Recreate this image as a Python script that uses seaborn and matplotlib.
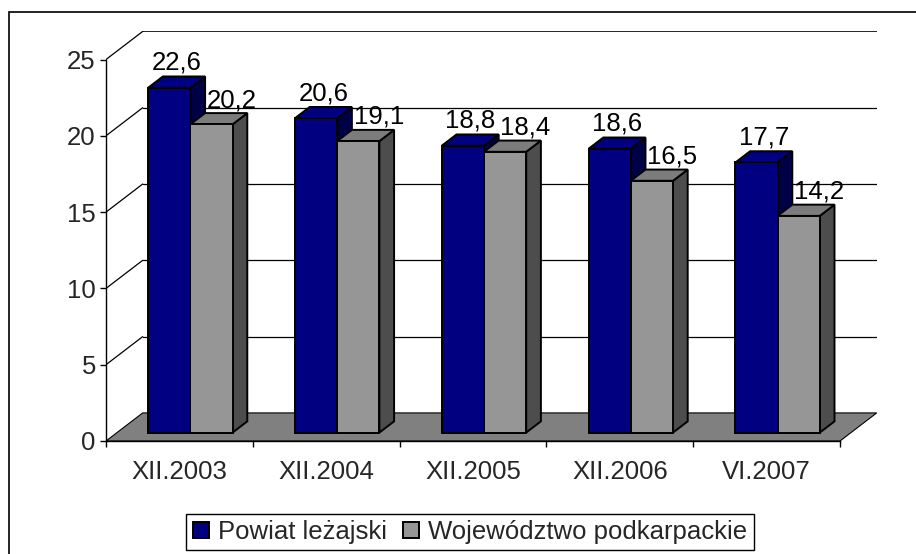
import matplotlib
matplotlib.use("Agg")
import matplotlib.pyplot as plt
from matplotlib.patches import Polygon, Patch, Rectangle
import pandas as pd
import seaborn as sns

# --- data -----------------------------------------------------------------
okresy = ["XII.2003", "XII.2004", "XII.2005", "XII.2006", "VI.2007"]
serie = ["Powiat leżajski", "Województwo podkarpackie"]
powiat = [22.6, 20.6, 18.8, 18.6, 17.7]
wojewodztwo = [20.2, 19.1, 18.4, 16.5, 14.2]
y_ticks = [0, 5, 10, 15, 20, 25]

# --- style ----------------------------------------------------------------
FRONT = {serie[0]: "#000080", serie[1]: "#969696"}
TOP = {serie[0]: "#000080", serie[1]: "#7c7c7c"}
SIDE = {serie[0]: "#000046", serie[1]: "#4d4d4d"}
LABEL_OFFSET = {serie[0]: (0, 5), serie[1]: (9.4, 4.3)}   # points
FLOOR = "#808080"
FS = 18.5

W, H = 916, 554
DX, DY = 0.25, 1.84          # full depth of the 3-D box (x in categories, y in values)
D0, BD = 0.30, 0.40          # bar front position / bar depth as fraction of full depth
YMAX = 25

sns.set_theme(style="white")
plt.rcParams["font.family"] = ["Liberation Sans", "DejaVu Sans"]

df = pd.DataFrame({
    "okres": okresy * 2,
    "seria": [serie[0]] * len(okresy) + [serie[1]] * len(okresy),
    "wartosc": powiat + wojewodztwo,
})

fig = plt.figure(figsize=(W / 100, H / 100), dpi=100)
# front plane: x=-0.5 at px 106, x=4.5 at px 840; y=0 at px 441, y=25 at px 59.5
left_px, right_front_px = 106, 840
base_px, top25_px = 441, 59.5
ppx = (right_front_px - left_px) / len(okresy)
ppy = (base_px - top25_px) / YMAX
ax_w = (len(okresy) + DX) * ppx
ax_h = (YMAX + DY) * ppy
ax = fig.add_axes([left_px / W, 1 - base_px / H, ax_w / W, ax_h / H])

sns.barplot(data=df, x="okres", y="wartosc", hue="seria", palette=FRONT,
            width=0.575, saturation=1, edgecolor="black", linewidth=1.4,
            legend=False, ax=ax)
bars = list(ax.patches)
n = len(okresy)
for i, p in enumerate(bars):
    p.set_gid(serie[i // n])

ax.set_xlim(-0.5, len(okresy) - 0.5 + DX)
ax.set_ylim(0, YMAX + DY)

# back wall and side wall gridlines
for v in y_ticks[1:]:
    ax.plot([-0.5 + DX, len(okresy) - 0.5 + DX], [v + DY, v + DY],
            color="black", lw=0.9 if v < YMAX else 1.2, zorder=1)
    ax.plot([-0.5, -0.5 + DX], [v, v + DY], color="black", lw=0.9, zorder=1)

# floor
ax.add_patch(Polygon([(-0.5, 0), (len(okresy) - 0.5, 0),
                      (len(okresy) - 0.5 + DX, DY), (-0.5 + DX, DY)],
                     closed=True, fc=FLOOR, ec="black", lw=0.8, zorder=2))

# 3-D bars: move front face into the box, add side and top faces
for k, p in enumerate(sorted(bars, key=lambda b: b.get_x())):
    s = p.get_gid()
    x0 = p.get_x() + D0 * DX
    w = p.get_width()
    h = p.get_height()
    y0 = D0 * DY
    p.set_x(x0)
    p.set_y(y0)
    x1, y1 = x0 + w, y0 + h
    ddx, ddy = BD * DX, BD * DY
    side = Polygon([(x1, y0), (x1 + ddx, y0 + ddy), (x1 + ddx, y1 + ddy), (x1, y1)],
                   closed=True, fc=SIDE[s], ec="black", lw=1.4, zorder=3 + 3 * k)
    top = Polygon([(x0, y1), (x1, y1), (x1 + ddx, y1 + ddy), (x0 + ddx, y1 + ddy)],
                  closed=True, fc=TOP[s], ec="black", lw=1.4, zorder=4 + 3 * k)
    ax.add_patch(side)
    ax.add_patch(top)
    p.set_zorder(5 + 3 * k)

    ax.annotate(f"{h:.1f}".replace(".", ","),
                xy=(x0 + w / 2 + ddx / 2, y1 + ddy), xytext=LABEL_OFFSET[s],
                textcoords="offset points", ha="center", va="baseline",
                fontsize=FS, color="black", zorder=100)

# axes
for sp in ["top", "right"]:
    ax.spines[sp].set_visible(False)
ax.spines["left"].set_bounds(0, YMAX)
ax.spines["bottom"].set_bounds(-0.5, len(okresy) - 0.5)
for sp in ["left", "bottom"]:
    ax.spines[sp].set_color("black")
    ax.spines[sp].set_linewidth(1.0)
    ax.spines[sp].set_zorder(2.5)

ax.set_yticks(y_ticks)
ax.set_yticklabels([str(t) for t in y_ticks])
ax.set_xticks([i - 0.5 for i in range(len(okresy) + 1)])
ax.set_xticklabels([])
ax.set_xticks(range(len(okresy)), okresy, minor=True)
ax.tick_params(axis="y", direction="out", length=4.3, width=1, color="black",
               labelsize=FS, pad=3, left=True)
ax.tick_params(axis="x", which="major", direction="out", length=4.3, width=1,
               color="black", bottom=True)
ax.tick_params(axis="x", which="minor", length=0, labelsize=FS, pad=13.5)
ax.set_xlabel("")
ax.set_ylabel("")
ax.patch.set_alpha(0)

# legend
handles = [Patch(fc=FRONT[s], ec="black", lw=1.4, label=s) for s in serie]
fig.legend(handles=handles, loc="center", bbox_to_anchor=(470 / W, 1 - 532 / H),
           ncol=2, fontsize=FS, frameon=True, fancybox=False, edgecolor="black",
           framealpha=1, handlelength=0.62, handleheight=0.62, handletextpad=0.35,
           columnspacing=0.65, borderpad=0.25, borderaxespad=0)
fig.legends[0].get_frame().set_linewidth(1.0)

# chart area border (cropped on right/bottom)
fig.add_artist(Rectangle((9 / W, -0.5), 2, 1.5 - 12 / H, transform=fig.transFigure,
                         fill=False, ec="black", lw=1.2))

fig.savefig("out.png", dpi=100)
plt.close(fig)
